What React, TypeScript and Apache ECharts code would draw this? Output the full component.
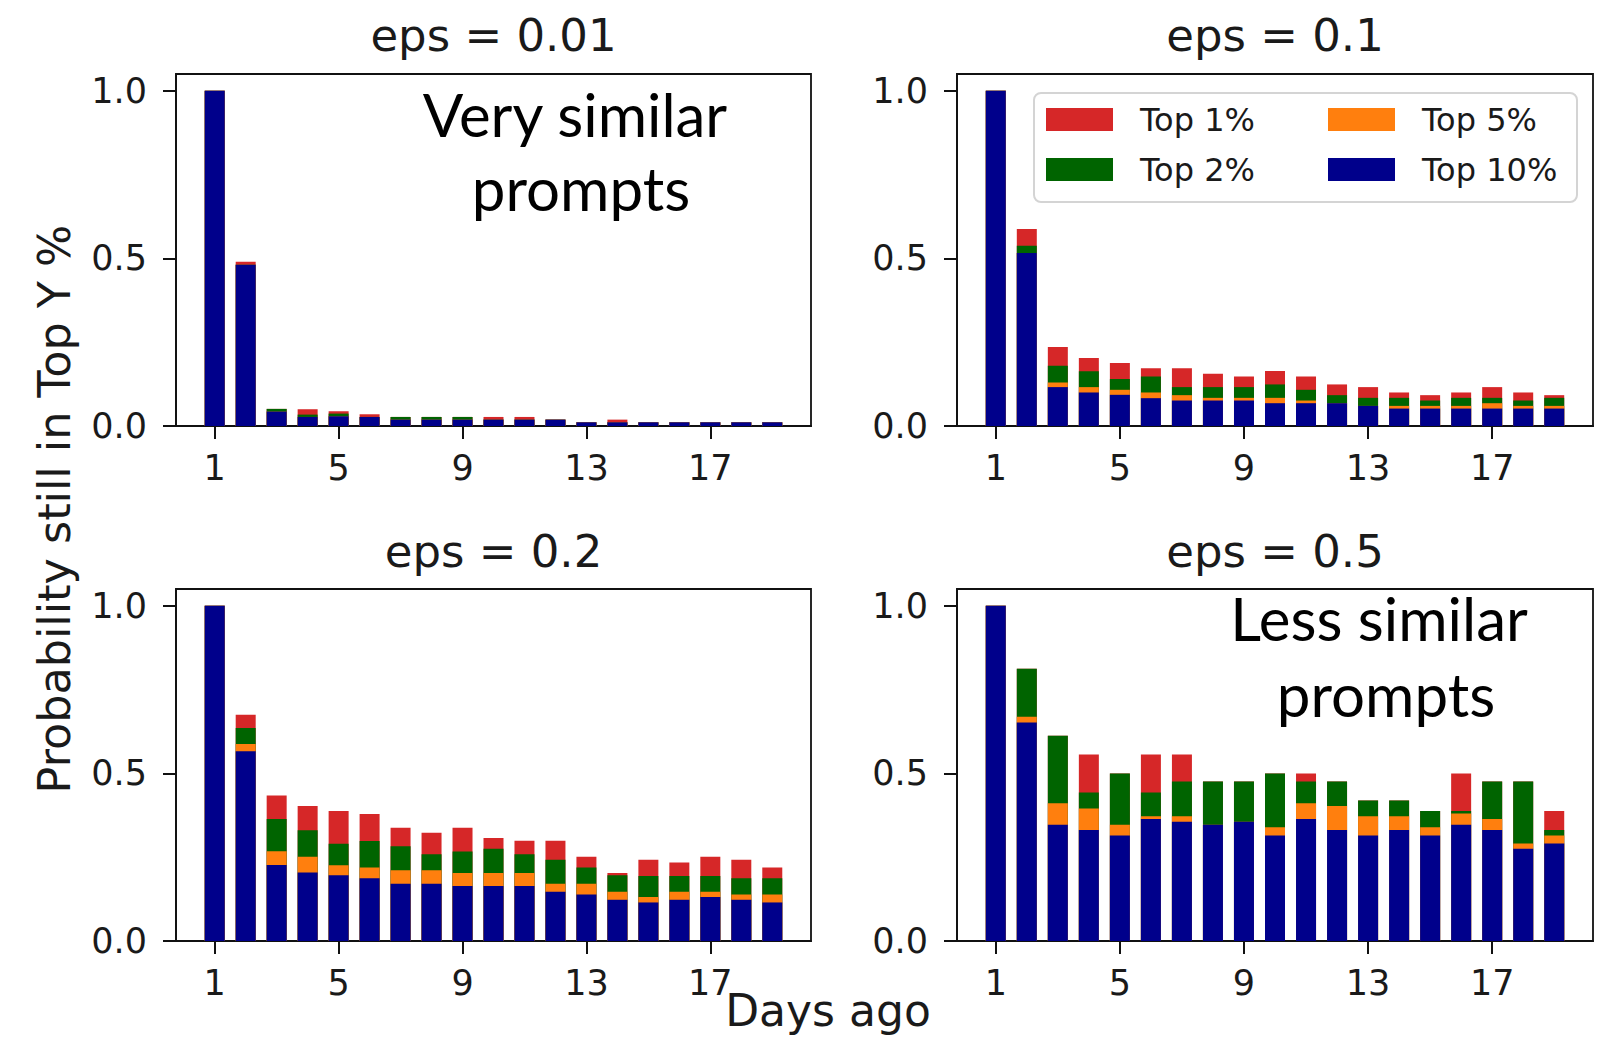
import React, { useEffect, useRef } from "react";
import * as echarts from "echarts";

const days = [1, 2, 3, 4, 5, 6, 7, 8, 9, 10, 11, 12, 13, 14, 15, 16, 17, 18, 19];
const xTickValues = [1, 5, 9, 13, 17];
const yTickValues = [0, 0.5, 1.0];
const seriesNames = ["Top 1%", "Top 2%", "Top 5%", "Top 10%"];
const seriesColors = ["#d62728", "#006400", "#ff7f0e", "#00008b"];
const panelTitles = ["eps = 0.01", "eps = 0.1", "eps = 0.2", "eps = 0.5"];

// Heights (top of each coloured bar)
const eps001Top1 = [1.0, 0.49, 0.051, 0.05, 0.044, 0.035, 0.027, 0.027, 0.027, 0.027, 0.027, 0.019, 0.011, 0.019, 0.011, 0.011, 0.011, 0.011, 0.011];
const eps001Top2 = [1.0, 0.481, 0.051, 0.034, 0.037, 0.027, 0.027, 0.027, 0.027, 0.019, 0.019, 0.019, 0.011, 0.011, 0.011, 0.011, 0.011, 0.011, 0.011];
const eps001Top5 = [1.0, 0.481, 0.043, 0.027, 0.029, 0.027, 0.019, 0.019, 0.019, 0.019, 0.019, 0.019, 0.011, 0.011, 0.011, 0.011, 0.011, 0.011, 0.011];
const eps001Top10 = [1.0, 0.481, 0.043, 0.027, 0.029, 0.027, 0.019, 0.019, 0.019, 0.019, 0.019, 0.019, 0.011, 0.011, 0.011, 0.011, 0.011, 0.011, 0.011];

const eps01Top1 = [1.0, 0.588, 0.236, 0.203, 0.188, 0.172, 0.172, 0.156, 0.148, 0.164, 0.148, 0.124, 0.116, 0.1, 0.092, 0.1, 0.116, 0.1, 0.092];
const eps01Top2 = [1.0, 0.538, 0.18, 0.163, 0.14, 0.148, 0.116, 0.116, 0.116, 0.124, 0.108, 0.092, 0.084, 0.084, 0.076, 0.084, 0.084, 0.076, 0.084];
const eps01Top5 = [1.0, 0.516, 0.13, 0.116, 0.108, 0.1, 0.092, 0.084, 0.084, 0.084, 0.076, 0.068, 0.06, 0.06, 0.06, 0.06, 0.068, 0.06, 0.06];
const eps01Top10 = [1.0, 0.516, 0.116, 0.1, 0.093, 0.083, 0.076, 0.076, 0.076, 0.068, 0.068, 0.068, 0.06, 0.052, 0.052, 0.052, 0.052, 0.052, 0.052];

const eps02Top1 = [1.0, 0.675, 0.434, 0.403, 0.388, 0.379, 0.338, 0.323, 0.338, 0.307, 0.299, 0.299, 0.251, 0.203, 0.242, 0.234, 0.251, 0.242, 0.219];
const eps02Top2 = [1.0, 0.635, 0.364, 0.33, 0.29, 0.298, 0.283, 0.259, 0.267, 0.275, 0.259, 0.242, 0.219, 0.196, 0.194, 0.194, 0.194, 0.187, 0.187];
const eps02Top5 = [1.0, 0.588, 0.268, 0.251, 0.226, 0.219, 0.211, 0.211, 0.203, 0.203, 0.203, 0.171, 0.171, 0.147, 0.131, 0.147, 0.147, 0.139, 0.139];
const eps02Top10 = [1.0, 0.566, 0.227, 0.204, 0.196, 0.187, 0.171, 0.171, 0.164, 0.164, 0.164, 0.147, 0.139, 0.123, 0.115, 0.123, 0.131, 0.123, 0.115];

const eps05Top1 = [1.0, 0.812, 0.612, 0.556, 0.5, 0.556, 0.556, 0.476, 0.476, 0.5, 0.5, 0.476, 0.419, 0.419, 0.388, 0.5, 0.476, 0.476, 0.388];
const eps05Top2 = [1.0, 0.812, 0.612, 0.443, 0.5, 0.443, 0.476, 0.476, 0.476, 0.5, 0.476, 0.476, 0.419, 0.419, 0.388, 0.388, 0.476, 0.476, 0.331];
const eps05Top5 = [1.0, 0.669, 0.411, 0.395, 0.347, 0.372, 0.372, 0.347, 0.356, 0.339, 0.411, 0.403, 0.372, 0.372, 0.339, 0.38, 0.364, 0.291, 0.315];
const eps05Top10 = [1.0, 0.652, 0.347, 0.331, 0.315, 0.364, 0.356, 0.347, 0.356, 0.315, 0.364, 0.331, 0.315, 0.331, 0.315, 0.347, 0.331, 0.275, 0.291];

const panelData = [
  [eps001Top1, eps001Top2, eps001Top5, eps001Top10],
  [eps01Top1, eps01Top2, eps01Top5, eps01Top10],
  [eps02Top1, eps02Top2, eps02Top5, eps02Top10],
  [eps05Top1, eps05Top2, eps05Top5, eps05Top10],
];

const W = 1607;
const H = 1039;
const grids = [
  { left: 176, top: 74, width: 635, height: 352 },
  { left: 957, top: 74, width: 636, height: 352 },
  { left: 176, top: 589, width: 635, height: 352 },
  { left: 957, top: 589, width: 636, height: 352 },
];

const MPL_FONT = "'DejaVu Sans', sans-serif";
const ANNOT_FONT = "Lato, 'Open Sans', sans-serif";
const TEXT_COLOR = "#1a1a1a";

function buildOption() {
  const grid = grids.map((g) => ({
    ...g,
    show: true,
    borderColor: "#111",
    borderWidth: 1.8,
    backgroundColor: "transparent",
    containLabel: false,
  }));

  const xAxis = grids.map((_, i) => ({
    type: "value",
    gridIndex: i,
    min: -0.25,
    max: 20.25,
    splitLine: { show: false },
    axisLine: { show: true, onZero: false, lineStyle: { color: "#111", width: 1.8 } },
    axisTick: {
      show: true,
      customValues: xTickValues,
      length: 13,
      lineStyle: { color: "#111", width: 2 },
    },
    axisLabel: {
      customValues: xTickValues,
      margin: 24,
      fontSize: 35,
      lineHeight: 35,
      fontFamily: MPL_FONT,
      color: TEXT_COLOR,
      formatter: (v: number) => String(v),
    },
  }));

  const yAxis = grids.map((_, i) => ({
    type: "value",
    gridIndex: i,
    min: 0,
    max: 1.05,
    splitLine: { show: false },
    axisLine: { show: true, onZero: false, lineStyle: { color: "#111", width: 1.8 } },
    axisTick: {
      show: true,
      customValues: yTickValues,
      length: 13,
      lineStyle: { color: "#111", width: 2 },
    },
    axisLabel: {
      customValues: yTickValues,
      margin: 29,
      fontSize: 35,
      fontFamily: MPL_FONT,
      color: TEXT_COLOR,
      formatter: (v: number) => v.toFixed(1),
    },
  }));

  const series: any[] = [];
  panelData.forEach((levels, i) => {
    levels.forEach((vals, j) => {
      series.push({
        type: "bar",
        name: seriesNames[j],
        xAxisIndex: i,
        yAxisIndex: i,
        data: days.map((d, k) => [d, vals[k]]),
        barWidth: 20,
        barGap: "-100%",
        itemStyle: { color: seriesColors[j] },
        emphasis: { disabled: true },
        silent: true,
      });
    });
  });

  const graphic: any[] = [];
  // Panel titles
  grids.forEach((g, i) => {
    graphic.push({
      type: "text",
      x: g.left + g.width / 2,
      y: i < 2 ? 35 : 551,
      style: {
        text: panelTitles[i],
        fontSize: 45,
        fontFamily: MPL_FONT,
        fill: TEXT_COLOR,
        align: "center",
        textAlign: "center",
        verticalAlign: "middle",
        textVerticalAlign: "middle",
      },
    });
  });

  // Annotations
  const annot = (text: string, x: number, y: number) => ({
    type: "text",
    x,
    y,
    z: 100,
    style: {
      text,
      fontSize: 60,
      fontFamily: ANNOT_FONT,
      fill: "#000",
      align: "center",
      textAlign: "center",
      verticalAlign: "bottom",
      textVerticalAlign: "bottom",
    },
  });
  graphic.push(annot("Very similar", 575, 144));
  graphic.push(annot("prompts", 581, 218));
  graphic.push(annot("Less similar", 1379, 648));
  graphic.push(annot("prompts", 1386, 724));

  // Legend
  graphic.push({
    type: "rect",
    z: 50,
    shape: { x: 1034, y: 93, width: 543, height: 109, r: 7 },
    style: { fill: "rgba(255,255,255,0.85)", stroke: "#d4d4d4", lineWidth: 2 },
  });
  const legendPos = [
    { name: "Top 1%", color: seriesColors[0], x: 1046, y: 108 },
    { name: "Top 5%", color: seriesColors[2], x: 1328, y: 108 },
    { name: "Top 2%", color: seriesColors[1], x: 1046, y: 158 },
    { name: "Top 10%", color: seriesColors[3], x: 1328, y: 158 },
  ];
  legendPos.forEach((l) => {
    graphic.push({
      type: "rect",
      z: 51,
      shape: { x: l.x, y: l.y, width: 67, height: 23 },
      style: { fill: l.color },
    });
    graphic.push({
      type: "text",
      z: 51,
      x: l.x + 94,
      y: l.y + 12,
      style: {
        text: l.name,
        fontSize: 32,
        fontFamily: MPL_FONT,
        fill: TEXT_COLOR,
        align: "left",
        textAlign: "left",
        verticalAlign: "middle",
        textVerticalAlign: "middle",
      },
    });
  });

  // Axis labels
  graphic.push({
    type: "text",
    x: 54,
    y: 509,
    rotation: Math.PI / 2,
    style: {
      text: "Probability still in Top Y %",
      fontSize: 44.5,
      fontFamily: MPL_FONT,
      fill: TEXT_COLOR,
      align: "center",
      textAlign: "center",
      verticalAlign: "middle",
      textVerticalAlign: "middle",
    },
  });
  graphic.push({
    type: "text",
    x: 828,
    y: 1010,
    style: {
      text: "Days ago",
      fontSize: 44,
      fontFamily: MPL_FONT,
      fill: TEXT_COLOR,
      align: "center",
      textAlign: "center",
      verticalAlign: "middle",
      textVerticalAlign: "middle",
    },
  });

  return {
    animation: false,
    backgroundColor: "#ffffff",
    grid,
    xAxis,
    yAxis,
    series,
    graphic,
  };
}

export default function App() {
  const ref = useRef<HTMLDivElement>(null);
  useEffect(() => {
    document.body.style.margin = "0";
    if (!ref.current) return;
    const chart = echarts.init(ref.current, undefined, { renderer: "svg", width: W, height: H });
    chart.setOption(buildOption() as any);
    return () => {
      chart.dispose();
    };
  }, []);
  return (
    <div
      ref={ref}
      style={{ position: "absolute", left: 0, top: 0, width: W, height: H, background: "#fff" }}
    />
  );
}
